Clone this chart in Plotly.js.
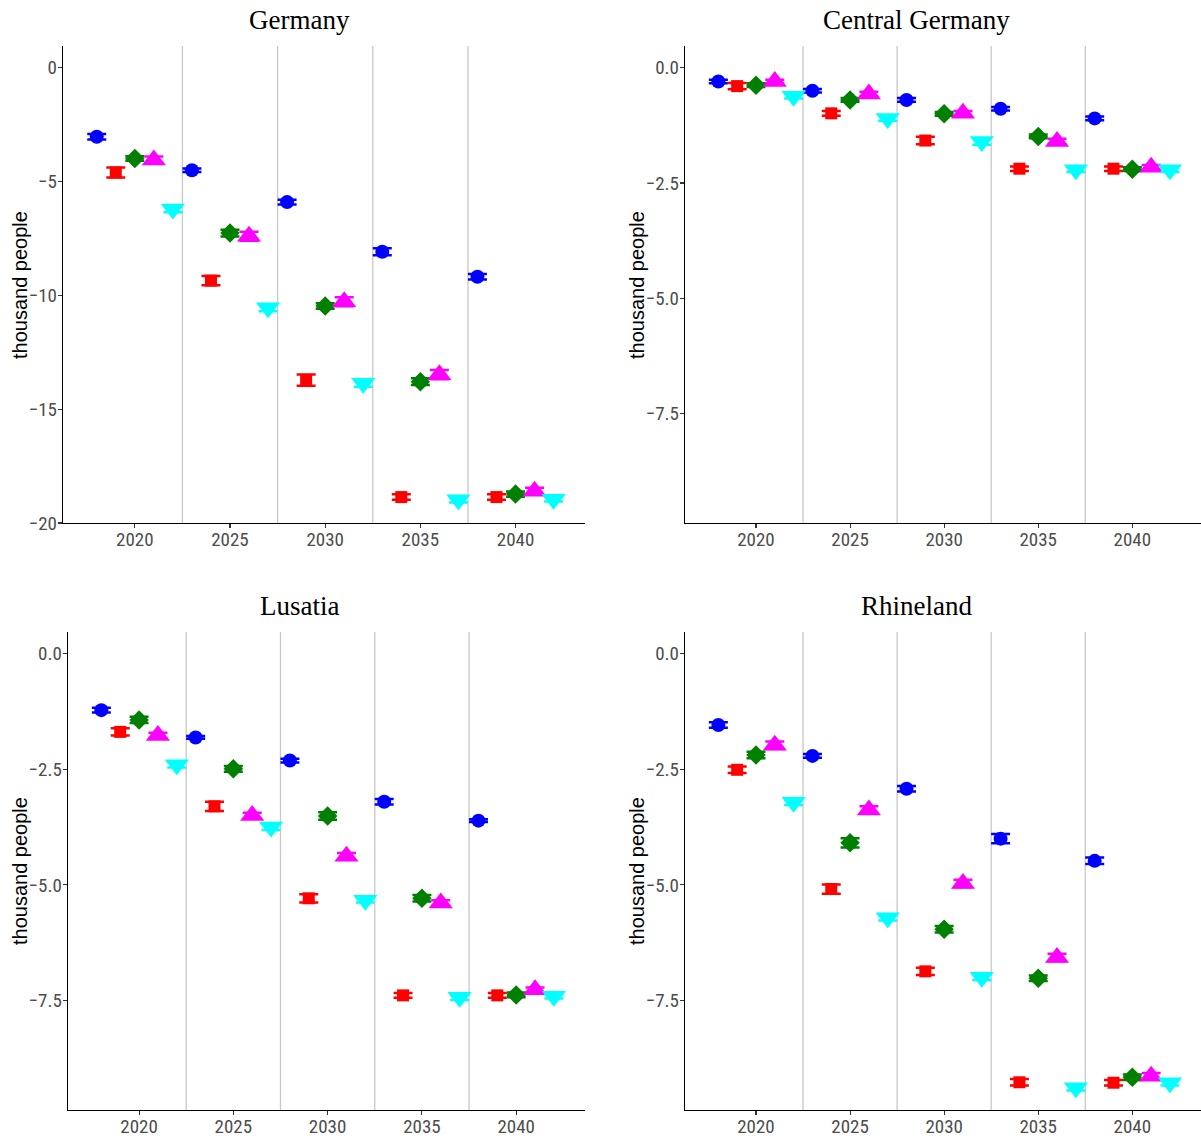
<!DOCTYPE html>
<html>
<head>
<meta charset="utf-8">
<script src="https://cdn.plot.ly/plotly-3.0.1.min.js"></script>
<style>html,body{margin:0;padding:0;background:#fff;}#chart{width:1201px;height:1138px;}</style>
</head>
<body>
<div id="chart"></div>
<script>
// ---------- data ----------
const years = [2020, 2025, 2030, 2035, 2040];
const panelTitles = ["Germany", "Central Germany", "Lusatia", "Rhineland"];
const yAxisTitle = "thousand people";

// Germany (thousand people)
const germanyBlue    = [-3.03, -4.5, -5.9, -8.08, -9.18];
const germanyRed     = [-4.6, -9.35, -13.72, -18.86, -18.86];
const germanyGreen   = [-3.98, -7.26, -10.46, -13.79, -18.73];
const germanyMagenta = [-4.05, -7.4, -10.28, -13.48, -18.6];
const germanyCyan    = [-6.2, -10.54, -13.86, -18.98, -18.95];
const germanyBlueErr    = [0.12, 0.08, 0.1, 0.15, 0.12];
const germanyRedErr     = [0.22, 0.2, 0.25, 0.12, 0.12];
const germanyGreenErr   = [0.1, 0.15, 0.12, 0.15, 0.12];
const germanyMagentaErr = [0.15, 0.2, 0.2, 0.2, 0.15];
const germanyCyanErr    = [0.15, 0.15, 0.15, 0.12, 0.1];

// Central Germany
const centralBlue    = [-0.3, -0.5, -0.7, -0.89, -1.1];
const centralRed     = [-0.4, -0.99, -1.58, -2.19, -2.19];
const centralGreen   = [-0.38, -0.7, -1.0, -1.49, -2.2];
const centralMagenta = [-0.3, -0.57, -0.99, -1.6, -2.16];
const centralCyan    = [-0.62, -1.1, -1.6, -2.21, -2.21];
const centralBlueErr    = [0.04, 0.04, 0.04, 0.04, 0.04];
const centralRedErr     = [0.07, 0.05, 0.08, 0.05, 0.05];
const centralGreenErr   = [0.04, 0.04, 0.04, 0.04, 0.04];
const centralMagentaErr = [0.04, 0.05, 0.05, 0.06, 0.05];
const centralCyanErr    = [0.05, 0.05, 0.07, 0.05, 0.05];

// Lusatia
const lusatiaBlue    = [-1.22, -1.81, -2.31, -3.2, -3.61];
const lusatiaRed     = [-1.69, -3.3, -5.29, -7.39, -7.39];
const lusatiaGreen   = [-1.43, -2.49, -3.51, -5.29, -7.38];
const lusatiaMagenta = [-1.77, -3.5, -4.38, -5.39, -7.27];
const lusatiaCyan    = [-2.4, -3.75, -5.33, -7.43, -7.41];
const lusatiaBlueErr    = [0.05, 0.03, 0.04, 0.06, 0.03];
const lusatiaRedErr     = [0.08, 0.1, 0.09, 0.05, 0.05];
const lusatiaGreenErr   = [0.07, 0.06, 0.08, 0.07, 0.05];
const lusatiaMagentaErr = [0.06, 0.06, 0.07, 0.06, 0.05];
const lusatiaCyanErr    = [0.06, 0.06, 0.05, 0.06, 0.05];

// Rhineland
const rhinelandBlue    = [-1.54, -2.21, -2.92, -4.0, -4.48];
const rhinelandRed     = [-2.51, -5.09, -6.87, -9.27, -9.28];
const rhinelandGreen   = [-2.19, -4.09, -5.96, -7.02, -9.16];
const rhinelandMagenta = [-1.98, -3.38, -4.97, -6.57, -9.14];
const rhinelandCyan    = [-3.21, -5.71, -7.0, -9.39, -9.28];
const rhinelandBlueErr    = [0.06, 0.04, 0.06, 0.1, 0.07];
const rhinelandRedErr     = [0.07, 0.1, 0.08, 0.07, 0.06];
const rhinelandGreenErr   = [0.07, 0.1, 0.07, 0.06, 0.06];
const rhinelandMagentaErr = [0.08, 0.08, 0.08, 0.08, 0.07];
const rhinelandCyanErr    = [0.06, 0.06, 0.06, 0.06, 0.06];

// ---------- styles ----------
const seriesNames   = ["Series 1", "Series 2", "Series 3", "Series 4", "Series 5"];
const seriesColors  = ["#0000FF", "#FF0000", "#007F00", "#FF00FF", "#00FFFF"];
const seriesSymbols = ["circle", "square", "diamond", "triangle-up", "triangle-down"];
const seriesSizes   = [14, 12, 15, 21, 21];
const seriesDodge   = [-2, -1, 0, 1, 2];

const panelData = [
  [germanyBlue, germanyRed, germanyGreen, germanyMagenta, germanyCyan],
  [centralBlue, centralRed, centralGreen, centralMagenta, centralCyan],
  [lusatiaBlue, lusatiaRed, lusatiaGreen, lusatiaMagenta, lusatiaCyan],
  [rhinelandBlue, rhinelandRed, rhinelandGreen, rhinelandMagenta, rhinelandCyan]
];
const panelErr = [
  [germanyBlueErr, germanyRedErr, germanyGreenErr, germanyMagentaErr, germanyCyanErr],
  [centralBlueErr, centralRedErr, centralGreenErr, centralMagentaErr, centralCyanErr],
  [lusatiaBlueErr, lusatiaRedErr, lusatiaGreenErr, lusatiaMagentaErr, lusatiaCyanErr],
  [rhinelandBlueErr, rhinelandRedErr, rhinelandGreenErr, rhinelandMagentaErr, rhinelandCyanErr]
];

const traces = [];
panelData.forEach((series, p) => {
  const ax = p === 0 ? "" : String(p + 1);
  series.forEach((vals, s) => {
    traces.push({
      type: "scatter",
      mode: "markers",
      name: seriesNames[s],
      showlegend: false,
      x: years.map(y => y + seriesDodge[s]),
      y: vals,
      xaxis: "x" + ax,
      yaxis: "y" + ax,
      marker: {symbol: seriesSymbols[s], color: seriesColors[s], size: seriesSizes[s], line: {width: 0}},
      error_y: {type: "data", array: panelErr[p][s], visible: true, color: seriesColors[s], thickness: 2.5, width: 9.5},
      cliponaxis: false
    });
  });
});

const tickFont = {family: "Liberation Sans Narrow, Arial Narrow, Roboto Condensed, Liberation Sans, sans-serif", size: 19, color: "#4D4D4D"};

function xAx(domain, anchor) {
  return {
    domain: domain, anchor: anchor, range: [2016.23, 2043.65],
    tickvals: years, ticktext: years.map(String),
    showgrid: false, zeroline: false, showline: true, linecolor: "#000000", linewidth: 1.3,
    ticks: "outside", ticklen: 4, tickwidth: 1.1, tickcolor: "#333333",
    ticklabelstandoff: -5,
    tickfont: tickFont, fixedrange: true
  };
}
function yAx(domain, anchor, range, dtick, fmt) {
  return {
    domain: domain, anchor: anchor, range: range, tick0: 0, dtick: dtick, tickformat: fmt,
    showgrid: false, zeroline: false, showline: true, linecolor: "#000000", linewidth: 1.3,
    ticks: "outside", ticklen: 4, tickwidth: 1.1, tickcolor: "#333333",
    ticklabelstandoff: -3,
    tickfont: tickFont, fixedrange: true
  };
}

const topDom = [0.5404, 0.9596];
const botDom = [0.0246, 0.4446];
const regRange = [-9.87, 0.47];

const shapes = [];
["x", "x2", "x3", "x4"].forEach((xr, i) => {
  const yr = i === 0 ? "y" : "y" + (i + 1);
  for (let k = 0; k < years.length - 1; k++) {
    const xs = (years[k] + years[k + 1]) / 2;
    shapes.push({type: "line", xref: xr, yref: yr + " domain", x0: xs, x1: xs, y0: 0, y1: 1,
      line: {color: "#C8C8C8", width: 1.3}, layer: "below"});
  }
});

const titlePos = [[299, 20], [916, 20], [299, 606], [916, 606]];
const annotations = panelTitles.map((t, i) => ({
  text: t, xref: "paper", yref: "paper",
  x: titlePos[i][0] / 1201, y: 1 - titlePos[i][1] / 1138,
  xanchor: "center", yanchor: "middle", showarrow: false,
  font: {family: "Liberation Serif, DejaVu Serif, serif", size: 27, color: "#000000"}
}));
const yTitlePos = [[20, 285], [637, 285], [20, 871], [637, 871]];
yTitlePos.forEach(pos => {
  annotations.push({
    text: yAxisTitle, xref: "paper", yref: "paper",
    x: pos[0] / 1201, y: 1 - pos[1] / 1138, textangle: -90,
    xanchor: "center", yanchor: "middle", showarrow: false,
    font: {family: "Arial, Liberation Sans, sans-serif", size: 20, color: "#000000"}
  });
});

const layout = {
  width: 1201, height: 1138,
  margin: {l: 0, r: 0, t: 0, b: 0},
  paper_bgcolor: "#FFFFFF", plot_bgcolor: "#FFFFFF",
  showlegend: false,
  xaxis: xAx([0.0525, 0.4871], "y"),
  yaxis: yAx(topDom, "x", [-20, 0.96], 5, "d"),
  xaxis2: xAx([0.5704, 1.0], "y2"),
  yaxis2: yAx(topDom, "x2", regRange, 2.5, ".1f"),
  xaxis3: xAx([0.0566, 0.4871], "y3"),
  yaxis3: yAx(botDom, "x3", regRange, 2.5, ".1f"),
  xaxis4: xAx([0.5704, 1.0], "y4"),
  yaxis4: yAx(botDom, "x4", regRange, 2.5, ".1f"),
  shapes: shapes,
  annotations: annotations
};

Plotly.newPlot("chart", traces, layout, {displayModeBar: false, staticPlot: true});
</script>
</body>
</html>
